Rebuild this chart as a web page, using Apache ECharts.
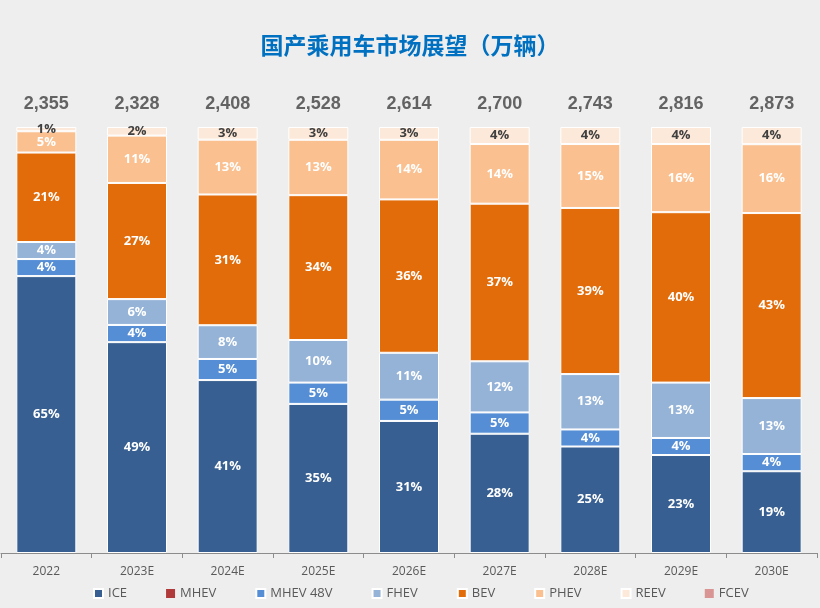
<!DOCTYPE html>
<html>
<head>
<meta charset="utf-8">
<script src="https://cdn.jsdelivr.net/npm/echarts@6/dist/echarts.min.js"></script>
<style>
html,body{margin:0;padding:0;background:#EEEEEE;}
#chart{width:820px;height:608px;}
</style>
</head>
<body>
<div id="chart"></div>
<script>
const categories = ['2022','2023E','2024E','2025E','2026E','2027E','2028E','2029E','2030E'];
const totals = [2355, 2328, 2408, 2528, 2614, 2700, 2743, 2816, 2873];
const ICE     = [65, 49, 41, 35, 31, 28, 25, 23, 19];
const MHEV    = [0, 0, 0, 0, 0, 0, 0, 0, 0];
const MHEV48V = [4, 4, 5, 5, 5, 5, 4, 4, 4];
const FHEV    = [4, 6, 8, 10, 11, 12, 13, 13, 13];
const BEV     = [21, 27, 31, 34, 36, 37, 39, 40, 43];
const PHEV    = [5, 11, 13, 13, 14, 14, 15, 16, 16];
const REEV    = [1, 2, 3, 3, 3, 4, 4, 4, 4];
const FCEV    = [0, 0, 0, 0, 0, 0, 0, 0, 0];

const seriesDefs = [
  {name:'ICE', data:ICE, color:'#375F91', label:'#FFFFFF'},
  {name:'MHEV', data:MHEV, color:'#B03A3A', label:null},
  {name:'MHEV 48V', data:MHEV48V, color:'#558ED5', label:'#FFFFFF'},
  {name:'FHEV', data:FHEV, color:'#95B3D7', label:'#FFFFFF'},
  {name:'BEV', data:BEV, color:'#E36C0A', label:'#FFFFFF'},
  {name:'PHEV', data:PHEV, color:'#FAC090', label:'#FFFFFF'},
  {name:'REEV', data:REEV, color:'#FDE9D9', label:'#404040'},
  {name:'FCEV', data:FCEV, color:'#D99594', label:null}
];

// column sums for 100% normalisation
const sums = categories.map((c, i) => seriesDefs.reduce((s, d) => s + d.data[i], 0));

const series = seriesDefs.map(d => ({
  name: d.name,
  type: 'bar',
  stack: 'share',
  barWidth: 60,
  silent: true,
  itemStyle: {color: d.color, borderColor: '#FFFFFF', borderWidth: d.label ? 1 : 0},
  label: d.label ? {
    show: true,
    position: 'inside',
    color: d.label,
    fontSize: 13,
    fontWeight: 'bold',
    fontFamily: 'Open Sans, sans-serif',
    formatter: p => d.data[p.dataIndex] + '%'
  } : {show: false},
  data: d.data.map((v, i) => v / sums[i] * 100)
}));

series.push({
  name: 'total',
  type: 'scatter',
  silent: true,
  symbolSize: 1,
  itemStyle: {color: 'rgba(0,0,0,0)'},
  label: {
    show: true,
    position: 'top',
    distance: 13,
    color: '#404040',
    fontSize: 18,
    fontWeight: 'bold',
    fontFamily: 'Liberation Sans, Arial, sans-serif',
    formatter: p => totals[p.dataIndex].toLocaleString('en-US')
  },
  data: totals.map(() => 100)
});

const chart = echarts.init(document.getElementById('chart'));
chart.setOption({
  backgroundColor: '#EEEEEE',
  animation: false,
  title: {
    text: '国产乘用车市场展望（万辆）',
    left: 'center',
    top: 29,
    textStyle: {color: '#0070C0', fontSize: 23, fontWeight: 'bold', fontFamily: 'Noto Sans CJK SC'}
  },
  legend: {
    data: seriesDefs.map(d => d.name),
    bottom: 3,
    left: 88,
    itemWidth: 9,
    itemHeight: 9,
    itemGap: 39,
    icon: 'rect',
    textStyle: {color: '#595959', fontSize: 13, fontFamily: 'Open Sans, sans-serif'}
  },
  grid: {left: 1, right: 3, top: 127, bottom: 55, containLabel: false},
  xAxis: {
    type: 'category',
    data: categories,
    axisLine: {lineStyle: {color: '#8C8C8C', width: 1}},
    axisTick: {show: true, length: 5, lineStyle: {color: '#8C8C8C'}},
    axisLabel: {color: '#595959', fontSize: 12, margin: 13, fontFamily: 'Open Sans, sans-serif'}
  },
  yAxis: {
    type: 'value',
    min: 0,
    max: 100,
    show: false,
    splitLine: {show: false}
  },
  series: series
});
</script>
</body>
</html>
